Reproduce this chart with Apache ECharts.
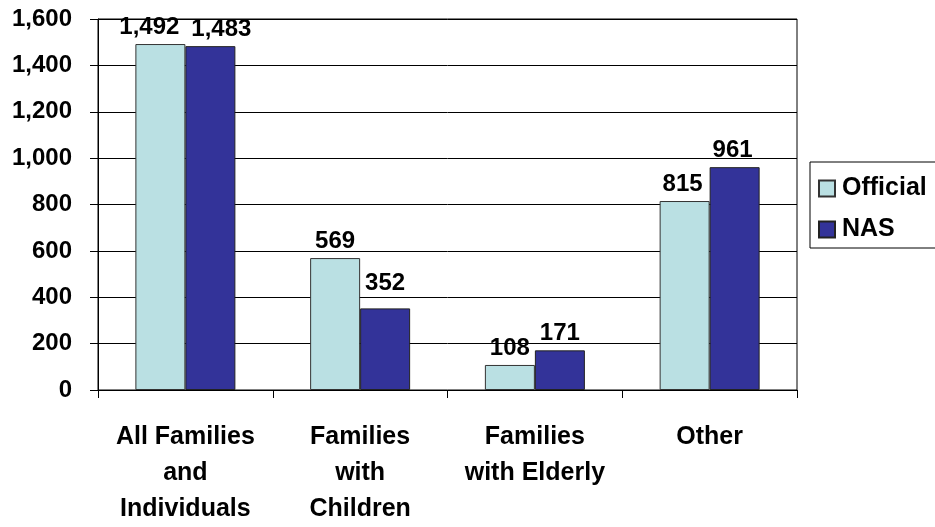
<!DOCTYPE html>
<html><head><meta charset="utf-8">
<script src="https://cdn.jsdelivr.net/npm/echarts@6/dist/echarts.min.js"></script>
<style>html,body{margin:0;padding:0;background:#fff}#c{width:935px;height:527px}</style>
</head><body><div id="c"></div>
<script>
const categories = ["All Families\nand\nIndividuals", "Families\nwith\nChildren", "Families\nwith Elderly", "Other"];
const officialValues = [1492, 569, 108, 815];
const nasValues = [1483, 352, 171, 961];
const seriesNames = ["Official", "NAS"];

// label nudges (style only)
const officialLabelDx = [-11, 0, 0, -2];
const nasLabelDx = [11, 0, 0, -2];
const nasLabelDy = [0, -8, 0, 0];

const font = "'Liberation Sans', Arial, sans-serif";
const chart = echarts.init(document.getElementById('c'));
const fmt = v => v.toLocaleString('en-US');
const withOffsets = (vals, dx, dy) => vals.map((v, i) => ({ value: v, label: { offset: [dx[i], dy ? dy[i] : 0] } }));
chart.setOption({
  animation: false,
  backgroundColor: '#fff',
  grid: { left: 98, right: 138, top: 19, bottom: 137, show: true, borderColor: '#000', borderWidth: 1 },
  legend: {
    orient: 'vertical', left: 810, top: 162,
    data: seriesNames,
    icon: 'rect',
    borderColor: '#000', borderWidth: 1,
    padding: [14, 40, 6, 8],
    itemWidth: 16, itemHeight: 16, itemGap: 16,
    textStyle: { fontFamily: font, fontWeight: 'bold', fontSize: 25, color: '#000', padding: [0, 0, 0, 2] }
  },
  xAxis: {
    type: 'category', data: categories,
    axisLine: { lineStyle: { color: '#000', width: 1 } },
    axisTick: { show: true, length: 8, lineStyle: { color: '#000' } },
    axisLabel: { interval: 0, margin: 29, fontFamily: font, fontWeight: 'bold', fontSize: 25, lineHeight: 36, color: '#000' }
  },
  yAxis: {
    type: 'value', min: 0, max: 1600, interval: 200,
    axisLine: { show: true, lineStyle: { color: '#000', width: 1 } },
    axisTick: { show: true, length: 8, lineStyle: { color: '#000' } },
    splitLine: { lineStyle: { color: '#000', width: 1 } },
    axisLabel: { margin: 26, fontFamily: font, fontWeight: 'bold', fontSize: 24, color: '#000', formatter: fmt }
  },
  series: [
    {
      name: seriesNames[0], type: 'bar', data: withOffsets(officialValues, officialLabelDx), barWidth: 50, barGap: '0%',
      itemStyle: { color: '#BAE0E3', borderColor: '#333', borderWidth: 1 },
      label: { show: true, position: 'top', distance: 5, fontFamily: font, fontWeight: 'bold', fontSize: 24, color: '#000',
        formatter: p => fmt(p.value) }
    },
    {
      name: seriesNames[1], type: 'bar', data: withOffsets(nasValues, nasLabelDx, nasLabelDy), barWidth: 50,
      itemStyle: { color: '#333399', borderColor: '#222', borderWidth: 1 },
      label: { show: true, position: 'top', distance: 5, fontFamily: font, fontWeight: 'bold', fontSize: 24, color: '#000',
        formatter: p => fmt(p.value) }
    }
  ]
});
</script></body></html>
